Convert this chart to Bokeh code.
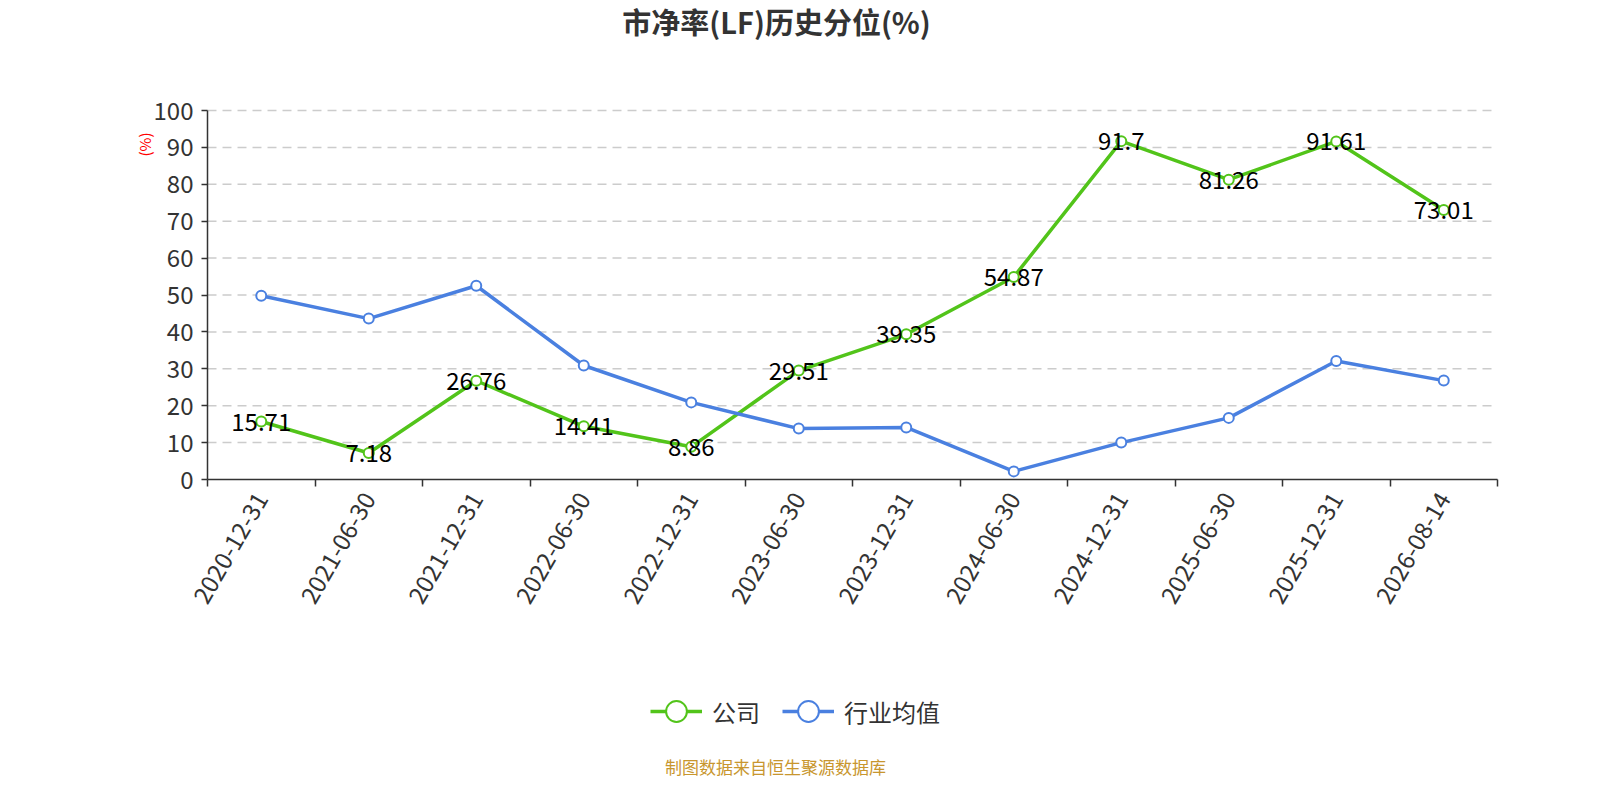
import numpy as np
from bokeh.plotting import figure
from bokeh.models import (Range1d, FixedTicker, Label, Legend, LegendItem, ColumnDataSource)
from bokeh.core.properties import value
from bokeh.embed import file_html
from bokeh.resources import INLINE

dates = ["2020-12-31", "2021-06-30", "2021-12-31", "2022-06-30", "2022-12-31", "2023-06-30",
         "2023-12-31", "2024-06-30", "2024-12-31", "2025-06-30", "2025-12-31", "2026-08-14"]
company = [15.71, 7.18, 26.76, 14.41, 8.86, 29.51, 39.35, 54.87, 91.7, 81.26, 91.61, 73.01]
industry = [49.8, 43.6, 52.5, 30.9, 20.9, 13.8, 14.1, 2.2, 10.0, 16.7, 32.1, 26.8]
y_ticks = [0, 10, 20, 30, 40, 50, 60, 70, 80, 90, 100]

FONT = "Noto Sans CJK SC"
GREEN = "#52c41a"
BLUE = "#4a80e0"
AXIS = "#333333"

W, H = 1584, 784
# plot area in canvas pixels
F_LEFT, F_RIGHT, F_TOP, F_BOTTOM = 207, 1497, 110, 479

n = len(dates)
xs = np.arange(n) + 0.5
YMIN, YMAX = 0, 100

kx = (F_RIGHT - F_LEFT) / n
ky = (F_BOTTOM - F_TOP) / (YMAX - YMIN)
x_range = Range1d(-F_LEFT / kx, (W - F_LEFT) / kx)
y_range = Range1d(YMIN - (H - F_BOTTOM) / ky, YMAX + F_TOP / ky)

src = ColumnDataSource(dict(x=xs, company=company, industry=industry,
                            clabel=[f"{v:g}" for v in company]))

p = figure(width=W, height=H, output_backend="svg", toolbar_location=None,
           x_range=x_range, y_range=y_range,
           min_border_left=0, min_border_right=0, min_border_top=0, min_border_bottom=0)
p.outline_line_color = None
p.background_fill_color = "white"
p.border_fill_color = "white"
p.grid.visible = False

# grid lines (dashed) across the plot area
p.segment(x0=0, x1=n, y0=y_ticks[1:], y1=y_ticks[1:], line_color="#cccccc",
          line_width=1.5, line_dash="9 6")

# axes
xa = p.xaxis[0]
xa.fixed_location = YMIN
xa.bounds = (0, n)
xa.ticker = FixedTicker(ticks=list(xs), minor_ticks=list(range(n + 1)))
xa.major_label_overrides = {float(x): d for x, d in zip(xs, dates)}
xa.major_tick_line_color = None
xa.minor_tick_in = 0
xa.minor_tick_out = 7
xa.minor_tick_line_color = AXIS
xa.minor_tick_line_width = 1.5
xa.axis_line_color = AXIS
xa.axis_line_width = 1.5
xa.major_label_orientation = np.pi / 3
xa.major_label_text_font = FONT
xa.major_label_text_font_size = "24px"
xa.major_label_text_color = AXIS
xa.major_label_standoff = 8

ya = p.yaxis[0]
ya.fixed_location = 0
ya.bounds = (YMIN, YMAX)
ya.ticker = FixedTicker(ticks=y_ticks)
ya.major_tick_in = 0
ya.major_tick_out = 6
ya.minor_tick_line_color = None
ya.major_tick_line_color = AXIS
ya.major_tick_line_width = 1.5
ya.axis_line_color = AXIS
ya.axis_line_width = 1.5
ya.major_label_text_font = FONT
ya.major_label_text_font_size = "24px"
ya.major_label_text_color = AXIS
ya.major_label_standoff = 8

# series
l1 = p.line("x", "company", source=src, line_color=GREEN, line_width=3.5)
s1 = p.scatter("x", "company", source=src, size=10, fill_color="white",
               line_color=GREEN, line_width=2)
l2 = p.line("x", "industry", source=src, line_color=BLUE, line_width=3.5)
s2 = p.scatter("x", "industry", source=src, size=10, fill_color="white",
               line_color=BLUE, line_width=2)

p.text("x", "company", text="clabel", source=src, text_font=value(FONT),
       text_font_size="24px", text_color="#000000", text_align="center",
       text_baseline="middle")

# legend
leg = Legend(items=[LegendItem(label="公司", renderers=[l1, s1]),
                    LegendItem(label="行业均值", renderers=[l2, s2])],
             orientation="horizontal", location=(650, H - 712 - 25),
             glyph_width=52, glyph_height=52, label_standoff=10, spacing=22,
             padding=0, margin=0, border_line_color=None, background_fill_alpha=0,
             label_text_font=FONT, label_text_font_size="24px", label_text_color=AXIS)
p.add_layout(leg, "center")

# title, axis name, source
p.add_layout(Label(x=776, y=H - 20, x_units="screen", y_units="screen", text="市净率(LF)历史分位(%)",
                   text_font=FONT, text_font_size="29px", text_font_style="bold",
                   text_color=AXIS, text_align="center", text_baseline="middle"))
p.add_layout(Label(x=144, y=H - 144, x_units="screen", y_units="screen", text="(%)",
                   angle=np.pi / 2, text_font=FONT, text_font_size="15px",
                   text_color="#ff0000", text_align="center", text_baseline="middle"))
p.add_layout(Label(x=775, y=H - 766, x_units="screen", y_units="screen", text="制图数据来自恒生聚源数据库",
                   text_font=FONT, text_font_size="17px", text_color="#c8962e",
                   text_align="center", text_baseline="middle"))

open("out.html", "w").write(file_html(p, INLINE))
